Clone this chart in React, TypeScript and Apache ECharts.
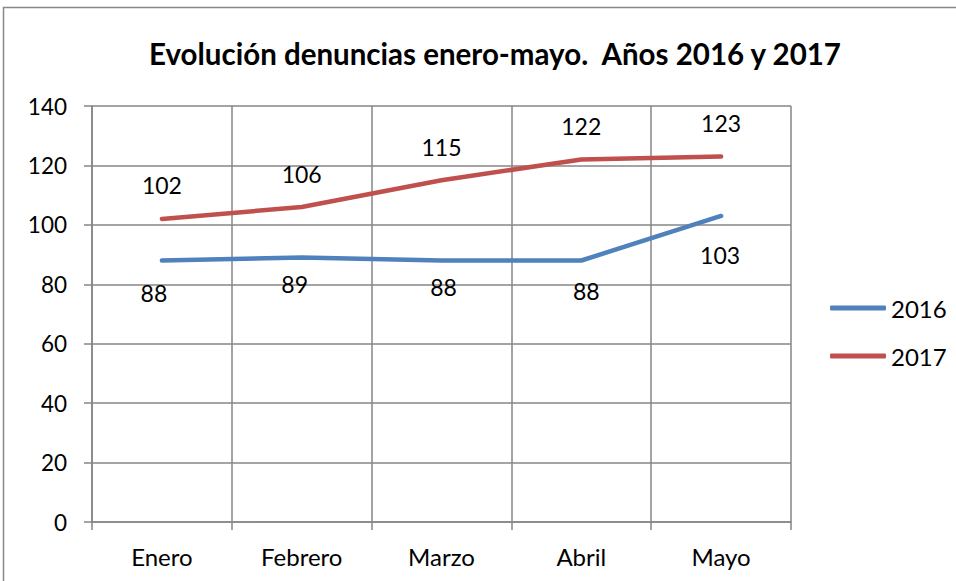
import React, { useEffect, useRef } from "react";
import * as echarts from "echarts";

const categories = ["Enero", "Febrero", "Marzo", "Abril", "Mayo"];
const values2016 = [88, 89, 88, 88, 103];
const values2017 = [102, 106, 115, 122, 123];
const yTicks = { min: 0, max: 140, interval: 20 };
const titleText = "Evolución denuncias enero-mayo.  Años 2016 y 2017";

// label placement nudges (style only), as in the original chart
const labelDist2016 = [21, 15, 15, 19, 28];
const labelShiftX2016 = [-8, -7, 2, 5, -1];

const FONT = "Lato, 'Open Sans', sans-serif";

export default function App() {
  const ref = useRef<HTMLDivElement>(null);
  useEffect(() => {
    if (!ref.current) return;
    const chart = echarts.init(ref.current, undefined, { renderer: "svg" });
    const data2016 = values2016.map((v, i) => ({
      value: v,
      label: { distance: labelDist2016[i], offset: [labelShiftX2016[i], 0] },
    }));
    chart.setOption({
      animation: false,
      backgroundColor: "#ffffff",
      textStyle: { fontFamily: FONT, color: "#000" },
      title: {
        text: titleText,
        left: 490,
        textAlign: "center",
        top: 33,
        textStyle: { fontFamily: FONT, fontSize: 29.5, fontWeight: "bold", color: "#000" },
      },
      graphic: [
        {
          type: "rect",
          left: 1,
          top: 5,
          shape: { width: 1000, height: 700 },
          style: { fill: "none", stroke: "#888888", lineWidth: 1.5 },
          silent: true,
        },
      ],
      legend: {
        orient: "vertical",
        left: 825,
        top: 291,
        itemGap: 24,
        itemWidth: 56,
        itemHeight: 5,
        textStyle: { fontFamily: FONT, fontSize: 24, color: "#000", padding: [0, 0, 0, 0] },
        data: [
          { name: "2016", icon: "roundRect" },
          { name: "2017", icon: "roundRect" },
        ],
      },
      grid: { left: 92, right: 165, top: 106, bottom: 59, containLabel: false },
      xAxis: {
        type: "category",
        data: categories,
        boundaryGap: true,
        axisLine: { lineStyle: { color: "#868686", width: 1.5 } },
        axisTick: { show: true, length: 8, alignWithLabel: false, lineStyle: { color: "#868686", width: 1.5 } },
        axisLabel: { fontFamily: FONT, fontSize: 24, color: "#000", margin: 22 },
        splitLine: { show: true, lineStyle: { color: "#868686", width: 1.5 } },
      },
      yAxis: {
        type: "value",
        min: yTicks.min,
        max: yTicks.max,
        interval: yTicks.interval,
        axisLine: { show: true, lineStyle: { color: "#868686", width: 1.5 } },
        axisTick: { show: true, length: 8, lineStyle: { color: "#868686", width: 1.5 } },
        axisLabel: { fontFamily: FONT, fontSize: 22.5, color: "#000", margin: 25 },
        splitLine: { show: true, lineStyle: { color: "#868686", width: 1.5 } },
      },
      series: [
        {
          name: "2016",
          type: "line",
          data: data2016,
          symbol: "circle",
          symbolSize: 0,
          showSymbol: true,
          color: "#4F81BD",
          lineStyle: { width: 4.5, color: "#4F81BD", cap: "round" },
          label: { show: true, position: "bottom", distance: 22, fontFamily: FONT, fontSize: 23, color: "#000" },
        },
        {
          name: "2017",
          type: "line",
          data: values2017,
          symbol: "circle",
          symbolSize: 0,
          showSymbol: true,
          color: "#C0504D",
          lineStyle: { width: 4.5, color: "#C0504D", cap: "round" },
          label: { show: true, position: "top", distance: 22, fontFamily: FONT, fontSize: 23, color: "#000" },
        },
      ],
    });
    return () => chart.dispose();
  }, []);
  return <div ref={ref} style={{ width: 956, height: 581, position: "absolute", left: 0, top: 0 }} />;
}
